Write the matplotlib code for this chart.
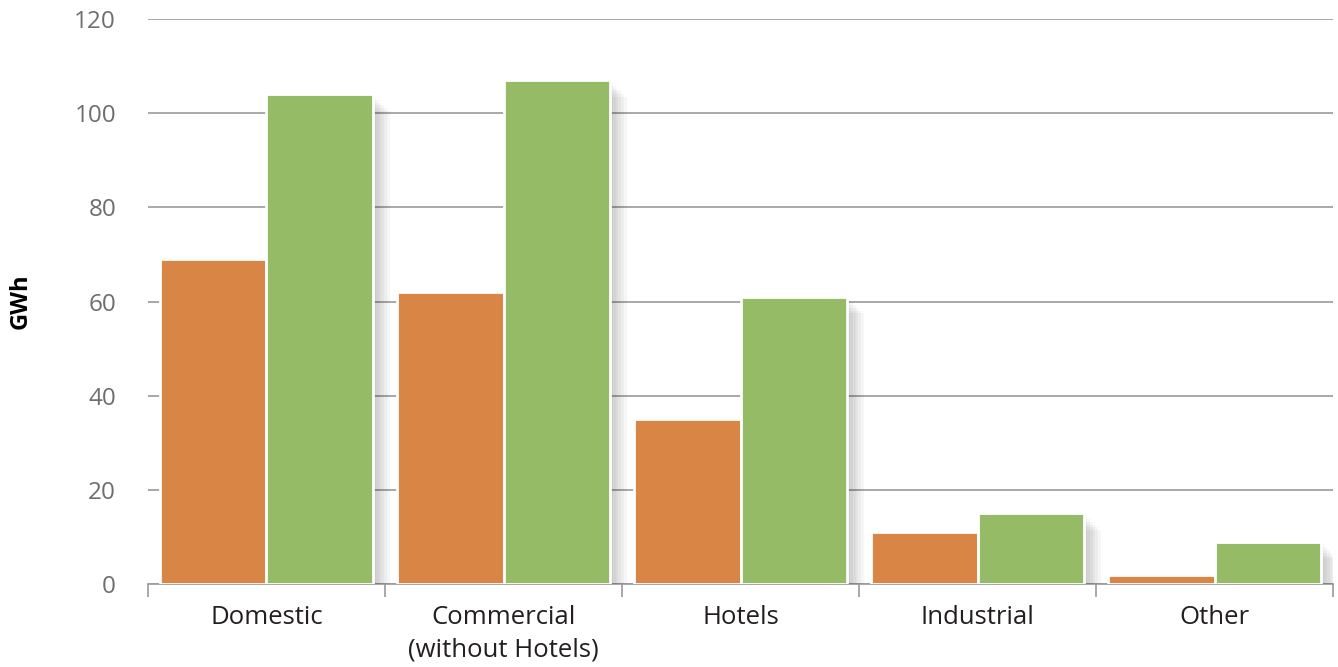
from matplotlib import pyplot as plt
from matplotlib import patheffects as pe
import numpy as np

categories = ['Domestic', 'Commercial\n(without Hotels)', 'Hotels', 'Industrial', 'Other']
series_a = [69, 62, 35, 11, 2]
series_b = [104, 107, 61, 15, 9]
yticks = [0, 20, 40, 60, 80, 100, 120]

orange = '#d98545'
green = '#95bb66'

plt.rcParams['font.family'] = ['Open Sans', 'DejaVu Sans']

fig = plt.figure(figsize=(13.38, 6.67), dpi=100)
ax = fig.add_axes([0.1106, 0.1244, 0.8857, 0.8471])

x = np.arange(len(categories))
w = 0.45

# soft shadow made of a few stacked offsets
shadow = [pe.SimplePatchShadow(offset=(d, -d), shadow_rgbFace='black', alpha=0.035)
          for d in (2, 4, 6, 8, 10, 12)] + [pe.Normal()]

bars_a = ax.bar(x - w / 2, series_a, w, color=orange, edgecolor='white', linewidth=2, zorder=3)
bars_b = ax.bar(x + w / 2, series_b, w, color=green, edgecolor='white', linewidth=2, zorder=3)
for b in list(bars_a) + list(bars_b):
    b.set_path_effects(shadow)

ax.set_ylim(0, 120)
ax.set_xlim(-0.5, len(categories) - 0.5)
ax.set_yticks(yticks)
ax.set_yticklabels([str(t) for t in yticks], color='#6d6e71', fontsize=17.5)
ax.tick_params(axis='y', length=0, pad=23)
ax.yaxis.grid(True, color='#9a9a9a', linewidth=1.2, zorder=0)
ax.set_axisbelow(True)

ax.set_xticks(x)
ax.set_xticklabels(categories, fontsize=18.5, color='#231f20', linespacing=1.4)
ax.tick_params(axis='x', which='major', length=0, pad=15)
ax.set_xticks(np.arange(len(categories) + 1) - 0.5, minor=True)
ax.tick_params(axis='x', which='minor', length=9, color='#9a9a9a', width=1.2)

for s in ['top', 'right', 'left']:
    ax.spines[s].set_visible(False)
ax.spines['bottom'].set_color('#9a9a9a')
ax.spines['bottom'].set_linewidth(1.2)

ax.set_ylabel('GWh', fontsize=17, fontweight='bold', color='black')
ax.yaxis.set_label_coords(-0.097, 0.5)

fig.savefig('out.png', dpi=100)
